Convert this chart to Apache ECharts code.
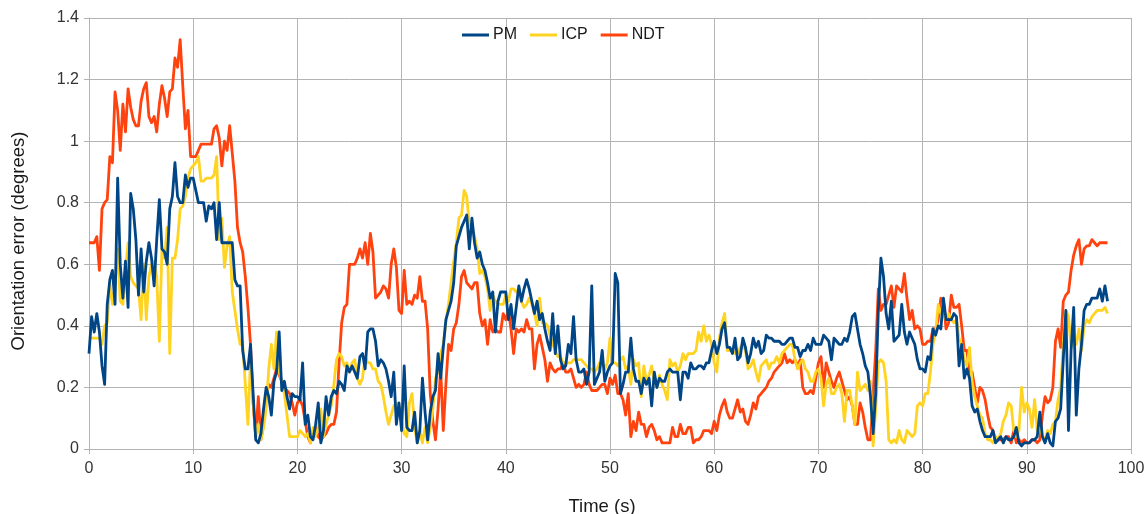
<!DOCTYPE html>
<html><head><meta charset="utf-8">
<script src="https://cdn.jsdelivr.net/npm/echarts@6/dist/echarts.min.js"></script>
<style>html,body{margin:0;padding:0;background:#fff}#c{width:1148px;height:514px}</style>
</head><body><div id="c"></div>
<script>
// sampling grid of the recorded runs (seconds)
const START_S = 0;
const STEP_S = 0.25;

const seriesNames = ['PM', 'ICP', 'NDT'];

const pm = [
0.31,0.43,0.38,0.44,0.38,0.27,0.21,0.47,
0.55,0.58,0.47,0.88,0.60,0.49,0.61,0.46,
0.83,0.78,0.68,0.50,0.65,0.51,0.61,0.67,
0.62,0.53,0.68,0.81,0.65,0.64,0.60,0.78,
0.82,0.93,0.82,0.80,0.80,0.89,0.85,0.88,
0.88,0.84,0.80,0.80,0.80,0.74,0.79,0.78,
0.80,0.68,0.80,0.67,0.67,0.67,0.67,0.67,
0.55,0.53,0.53,0.32,0.26,0.26,0.34,0.18,
0.03,0.02,0.05,0.13,0.20,0.17,0.11,0.22,
0.25,0.38,0.19,0.22,0.17,0.13,0.18,0.17,
0.17,0.16,0.28,0.08,0.11,0.04,0.03,0.08,
0.15,0.02,0.06,0.17,0.11,0.17,0.19,0.18,
0.22,0.21,0.19,0.27,0.25,0.27,0.25,0.23,
0.30,0.31,0.26,0.38,0.39,0.39,0.35,0.27,
0.29,0.28,0.26,0.22,0.17,0.25,0.08,0.15,
0.06,0.27,0.07,0.06,0.06,0.12,0.02,0.06,
0.23,0.12,0.03,0.12,0.17,0.19,0.31,0.23,
0.33,0.42,0.45,0.48,0.54,0.66,0.69,0.72,
0.74,0.76,0.65,0.75,0.67,0.62,0.64,0.60,
0.58,0.54,0.49,0.51,0.38,0.48,0.51,0.51,
0.51,0.42,0.47,0.39,0.46,0.53,0.48,0.52,
0.55,0.52,0.48,0.44,0.48,0.42,0.44,0.39,
0.35,0.32,0.44,0.31,0.40,0.29,0.26,0.27,
0.34,0.31,0.43,0.29,0.25,0.25,0.26,0.21,
0.25,0.53,0.21,0.23,0.25,0.32,0.22,0.25,
0.27,0.28,0.57,0.54,0.18,0.21,0.25,0.25,
0.36,0.26,0.22,0.22,0.18,0.23,0.21,0.23,
0.14,0.25,0.20,0.23,0.22,0.22,0.25,0.26,
0.25,0.25,0.25,0.16,0.25,0.25,0.23,0.28,
0.26,0.26,0.27,0.27,0.26,0.28,0.28,0.32,
0.35,0.31,0.34,0.39,0.41,0.33,0.33,0.31,
0.36,0.29,0.30,0.36,0.33,0.28,0.31,0.36,
0.33,0.35,0.31,0.32,0.37,0.36,0.36,0.35,
0.35,0.35,0.34,0.34,0.35,0.36,0.36,0.33,
0.33,0.30,0.32,0.32,0.34,0.32,0.36,0.34,
0.34,0.34,0.37,0.36,0.35,0.29,0.36,0.35,
0.34,0.34,0.36,0.35,0.38,0.43,0.44,0.39,
0.34,0.31,0.27,0.25,0.17,0.05,0.18,0.45,
0.62,0.56,0.44,0.39,0.48,0.35,0.36,0.37,
0.47,0.38,0.34,0.38,0.36,0.34,0.29,0.26,
0.26,0.25,0.30,0.29,0.39,0.37,0.40,0.39,
0.49,0.42,0.42,0.42,0.44,0.43,0.27,0.34,
0.23,0.26,0.23,0.14,0.12,0.13,0.09,0.06,
0.04,0.04,0.04,0.06,0.02,0.03,0.04,0.02,
0.04,0.03,0.03,0.04,0.07,0.02,0.01,0.02,
0.02,0.02,0.03,0.03,0.04,0.12,0.04,0.02,
0.05,0.02,0.01,0.09,0.10,0.13,0.29,0.45,
0.06,0.32,0.46,0.11,0.26,0.34,0.45,0.47,
0.47,0.49,0.49,0.49,0.52,0.48,0.53,0.48
];

const icp = [
0.36,0.36,0.36,0.36,0.36,0.34,0.40,0.41,
0.54,0.47,0.53,0.65,0.48,0.47,0.58,0.67,
0.56,0.54,0.53,0.52,0.42,0.60,0.42,0.56,
0.60,0.61,0.56,0.35,0.65,0.62,0.72,0.31,
0.62,0.62,0.68,0.78,0.79,0.82,0.88,0.91,
0.92,0.93,0.95,0.87,0.87,0.88,0.88,0.88,
0.89,0.95,0.68,0.75,0.59,0.66,0.69,0.51,
0.45,0.39,0.34,0.34,0.21,0.08,0.29,0.15,
0.05,0.08,0.03,0.07,0.13,0.26,0.34,0.26,
0.38,0.25,0.22,0.18,0.11,0.04,0.04,0.04,
0.04,0.06,0.05,0.04,0.05,0.02,0.07,0.04,
0.07,0.13,0.04,0.08,0.11,0.14,0.21,0.29,
0.31,0.30,0.27,0.28,0.25,0.28,0.29,0.23,
0.21,0.23,0.30,0.28,0.28,0.26,0.26,0.22,
0.21,0.17,0.12,0.08,0.11,0.14,0.15,0.14,
0.09,0.05,0.04,0.15,0.18,0.07,0.02,0.06,
0.02,0.07,0.02,0.07,0.13,0.23,0.25,0.31,
0.34,0.41,0.47,0.54,0.61,0.67,0.75,0.76,
0.84,0.82,0.73,0.72,0.69,0.65,0.57,0.58,
0.56,0.52,0.45,0.50,0.48,0.47,0.47,0.47,
0.50,0.48,0.52,0.52,0.51,0.52,0.48,0.46,
0.47,0.49,0.47,0.44,0.40,0.49,0.41,0.41,
0.40,0.37,0.34,0.32,0.30,0.30,0.28,0.28,
0.28,0.28,0.29,0.29,0.29,0.29,0.28,0.27,
0.26,0.26,0.25,0.26,0.28,0.28,0.26,0.28,
0.36,0.28,0.28,0.27,0.29,0.30,0.26,0.27,
0.21,0.29,0.27,0.28,0.17,0.27,0.22,0.24,
0.27,0.22,0.20,0.24,0.21,0.19,0.16,0.29,
0.27,0.28,0.25,0.27,0.31,0.29,0.31,0.31,
0.31,0.32,0.38,0.35,0.40,0.35,0.37,0.34,
0.28,0.25,0.36,0.41,0.44,0.32,0.32,0.32,
0.31,0.31,0.33,0.34,0.32,0.26,0.27,0.29,
0.25,0.22,0.27,0.28,0.29,0.26,0.28,0.28,
0.30,0.28,0.31,0.32,0.33,0.34,0.34,0.29,
0.26,0.28,0.29,0.26,0.25,0.22,0.22,0.25,
0.26,0.23,0.14,0.21,0.23,0.18,0.18,0.20,
0.21,0.18,0.09,0.19,0.19,0.14,0.08,0.25,
0.19,0.20,0.21,0.19,0.22,0.01,0.13,0.28,
0.29,0.28,0.22,0.03,0.02,0.03,0.02,0.06,
0.03,0.02,0.06,0.05,0.04,0.05,0.14,0.15,
0.14,0.18,0.18,0.25,0.34,0.38,0.47,0.44,
0.47,0.42,0.44,0.42,0.41,0.42,0.36,0.34,
0.29,0.27,0.33,0.22,0.17,0.14,0.11,0.10,
0.05,0.03,0.03,0.02,0.04,0.03,0.05,0.09,
0.11,0.15,0.14,0.06,0.04,0.06,0.20,0.12,
0.15,0.13,0.07,0.16,0.06,0.08,0.04,0.03,
0.06,0.05,0.08,0.09,0.16,0.20,0.34,0.45,
0.43,0.33,0.36,0.34,0.39,0.32,0.40,0.42,
0.41,0.43,0.44,0.45,0.45,0.45,0.46,0.44
];

const ndt = [
0.67,0.67,0.67,0.69,0.58,0.78,0.80,0.81,
0.95,0.93,1.16,1.10,0.97,1.12,1.03,1.17,
1.11,1.07,1.05,1.05,1.13,1.17,1.19,1.08,
1.06,1.08,1.03,1.12,1.18,1.14,1.08,1.16,
1.17,1.27,1.24,1.33,1.18,1.04,1.10,0.95,
0.95,0.95,0.97,0.99,0.99,0.99,0.99,0.99,
1.04,1.05,1.01,0.92,1.00,0.97,1.05,0.96,
0.87,0.72,0.67,0.64,0.56,0.46,0.34,0.15,
0.04,0.17,0.03,0.08,0.17,0.21,0.20,0.23,
0.26,0.24,0.22,0.20,0.19,0.18,0.15,0.11,
0.15,0.16,0.14,0.09,0.04,0.02,0.06,0.07,
0.04,0.03,0.04,0.05,0.07,0.08,0.08,0.12,
0.28,0.41,0.46,0.47,0.60,0.60,0.60,0.62,
0.65,0.62,0.67,0.60,0.70,0.64,0.49,0.50,
0.51,0.53,0.52,0.49,0.60,0.65,0.59,0.45,
0.44,0.58,0.47,0.48,0.47,0.50,0.49,0.56,
0.48,0.48,0.39,0.18,0.09,0.03,0.13,0.26,
0.06,0.21,0.34,0.32,0.39,0.41,0.47,0.56,
0.58,0.54,0.53,0.52,0.54,0.54,0.44,0.40,
0.42,0.34,0.42,0.38,0.39,0.38,0.38,0.44,
0.42,0.45,0.39,0.31,0.39,0.38,0.39,0.38,
0.42,0.39,0.39,0.26,0.34,0.37,0.33,0.29,
0.22,0.28,0.26,0.25,0.26,0.26,0.28,0.25,
0.25,0.26,0.23,0.20,0.21,0.20,0.21,0.25,
0.21,0.19,0.19,0.19,0.20,0.21,0.21,0.18,
0.23,0.21,0.24,0.18,0.18,0.16,0.11,0.18,
0.04,0.09,0.06,0.12,0.08,0.08,0.04,0.07,
0.08,0.06,0.03,0.04,0.02,0.02,0.02,0.02,
0.07,0.04,0.04,0.08,0.05,0.05,0.07,0.07,
0.02,0.03,0.03,0.04,0.06,0.06,0.06,0.05,
0.09,0.06,0.11,0.14,0.16,0.12,0.10,0.10,
0.13,0.16,0.12,0.13,0.09,0.08,0.11,0.15,
0.13,0.17,0.18,0.19,0.20,0.22,0.23,0.25,
0.26,0.27,0.28,0.31,0.28,0.29,0.28,0.29,
0.27,0.29,0.20,0.18,0.18,0.19,0.18,0.23,
0.28,0.30,0.20,0.28,0.25,0.22,0.20,0.23,
0.25,0.22,0.19,0.16,0.17,0.14,0.08,0.08,
0.15,0.12,0.07,0.03,0.03,0.18,0.32,0.52,
0.45,0.47,0.47,0.50,0.53,0.46,0.53,0.52,
0.51,0.57,0.49,0.42,0.45,0.39,0.40,0.39,
0.34,0.34,0.35,0.35,0.39,0.39,0.42,0.49,
0.48,0.39,0.41,0.50,0.46,0.46,0.47,0.40,
0.32,0.32,0.25,0.25,0.20,0.15,0.20,0.19,
0.16,0.11,0.07,0.06,0.03,0.03,0.03,0.03,
0.04,0.04,0.02,0.06,0.02,0.03,0.02,0.03,
0.02,0.02,0.03,0.03,0.02,0.03,0.11,0.17,
0.15,0.16,0.20,0.35,0.39,0.33,0.48,0.50,
0.51,0.58,0.63,0.66,0.68,0.60,0.65,0.66,
0.66,0.68,0.67,0.66,0.67,0.67,0.67,0.67
];

const xAxisMin = 0, xAxisMax = 100, xAxisStep = 10;
const yAxisMin = 0, yAxisMax = 1.4, yAxisStep = 0.2;
const xTitle = 'Time (s)';
const yTitle = 'Orientation error (degrees)';

const colors = { PM: '#004586', ICP: '#ffd320', NDT: '#ff420e' };
const toPairs = arr => arr.map((v, i) => [START_S + i * STEP_S, v]);
const dataByName = { PM: pm, ICP: icp, NDT: ndt };
const zByName = { PM: 5, ICP: 4, NDT: 3 };

const chart = echarts.init(document.getElementById('c'), null, { renderer: 'canvas' });
const FONT = '"Liberation Sans", Arial, sans-serif';
const gridColor = '#b3b3b3';

chart.setOption({
  animation: false,
  backgroundColor: '#ffffff',
  textStyle: { fontFamily: FONT },
  grid: { left: 89, right: 17, top: 18, bottom: 65, containLabel: false, outerBoundsMode: 'none' },
  legend: {
    data: seriesNames,
    top: 22,
    left: 457,
    itemWidth: 27,
    itemHeight: 3,
    itemGap: 13,
    icon: 'rect',
    textStyle: { fontFamily: FONT, fontSize: 16, color: '#1a1a1a', padding: [0, 0, 0, -1] }
  },
  xAxis: {
    type: 'value',
    min: xAxisMin, max: xAxisMax, interval: xAxisStep,
    name: xTitle, nameLocation: 'middle', nameGap: 48,
    nameTextStyle: { fontFamily: FONT, fontSize: 18.5, color: '#1a1a1a', padding: [0, 16, 0, 0] },
    axisLine: { show: true, lineStyle: { color: gridColor, width: 1 } },
    axisTick: { show: true, length: 5, lineStyle: { color: gridColor } },
    axisLabel: { fontFamily: FONT, fontSize: 16, color: '#333', margin: 12 },
    splitLine: { show: true, lineStyle: { color: gridColor, width: 1 } }
  },
  yAxis: {
    type: 'value',
    min: yAxisMin, max: yAxisMax, interval: yAxisStep,
    name: yTitle, nameLocation: 'middle', nameGap: 61, nameRotate: 90,
    nameTextStyle: { fontFamily: FONT, fontSize: 18.5, color: '#1a1a1a', padding: [0, 15, 0, 0] },
    axisLine: { show: true, lineStyle: { color: gridColor, width: 1 } },
    axisTick: { show: true, length: 5, lineStyle: { color: gridColor } },
    axisLabel: { fontFamily: FONT, fontSize: 16, color: '#333', margin: 10,
      formatter: v => String(Math.round(v * 10) / 10) },
    splitLine: { show: true, lineStyle: { color: gridColor, width: 1 } }
  },
  series: seriesNames.map(name => ({
    name,
    type: 'line',
    data: toPairs(dataByName[name]),
    showSymbol: false,
    symbol: 'none',
    z: zByName[name],
    lineStyle: { color: colors[name], width: 2.8, join: 'round' },
    itemStyle: { color: colors[name] },
    emphasis: { disabled: true }
  }))
});
</script>
</body></html>
